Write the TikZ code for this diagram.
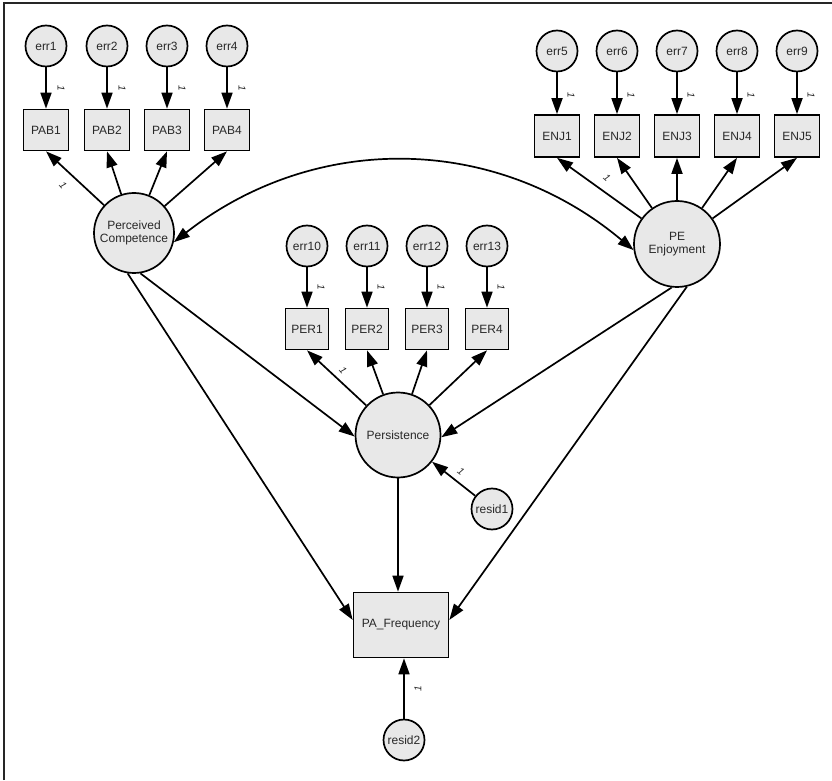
\documentclass[tikz,border=0pt]{standalone}
\usepackage{fontspec}
\setmainfont{Liberation Sans}
\usetikzlibrary{arrows.meta}
\definecolor{boxfill}{RGB}{232,232,232}
\definecolor{ink}{RGB}{40,40,40}
\begin{document}
\begin{tikzpicture}[x=1pt,y=1pt,
  every node/.style={text=ink},
  base/.style={draw=black, line width=1.7pt, fill=boxfill, inner sep=0pt,
    font=\fontsize{12}{13}\selectfont},
  obs/.style={base, rectangle, minimum width=45pt, minimum height=41pt},
  errc/.style={base, circle, minimum size=41pt},
  latent/.style={base, circle, minimum size=84pt, align=center},
  conn/.style={line width=1.7pt, -{Triangle[length=16pt,width=11pt]}},
  cov/.style={line width=1.7pt, {Triangle[length=16pt,width=11pt]}-{Triangle[length=16pt,width=11pt]}},
  wt/.style={inner sep=0pt, font=\fontsize{10}{10}\selectfont\itshape},
]
\useasboundingbox (0,0) rectangle (832,780);
% frame
\draw[line width=1.6pt, black!85] (4,0) -- (4,777) -- (832,777);

% ---------------- Perceived Competence block ----------------
\foreach \i/\x in {1/46,2/107,3/167,4/227}{
  \node[errc] (err\i) at (\x,734) {err\i};
  \node[obs]  (pab\i) at (\x,650) {PAB\i};
  \draw[conn] (err\i) -- (pab\i);
  \node[wt, rotate=-90] (we\i) at (\x+15,692) {1};
}
\node[latent, minimum size=80pt] (pc) at (134,547) {Perceived\\Competence};
\foreach \i in {1,...,4}{ \draw[conn] (pc) -- (pab\i.south); }
\node[wt, rotate=-49.5] (wpc) at (63,595) {1};

% ---------------- PE Enjoyment block ----------------
\foreach \i/\x [evaluate=\i as \j using int(\i+4)] in {1/557,2/617,3/677,4/737,5/797}{
  \node[errc] (err\j) at (\x,729) {err\j};
  \node[obs, minimum height=42pt] (enj\i) at (\x,644) {ENJ\i};
  \draw[conn] (err\j) -- (enj\i);
  \node[wt, rotate=-90] (we\j) at (\x+14,685) {1};
}
\node[latent, minimum size=86pt] (pe) at (677,536) {PE\\Enjoyment};
\foreach \i in {1,...,5}{ \draw[conn] (pe) -- (enj\i.south); }
\node[wt, rotate=-42] (wpe) at (607,602) {1};

% ---------------- Persistence block ----------------
\foreach \i/\x [evaluate=\i as \j using int(\i+9)] in {1/307,2/367,3/427,4/487}{
  \node[errc] (err\j) at (\x,534) {err\j};
  \node[obs, minimum width=43pt] (per\i) at (\x,451) {PER\i};
  \draw[conn] (err\j) -- (per\i);
  \node[wt, rotate=-90] (we\j) at (\x+14,493) {1};
}
\node[latent, minimum size=85pt] (pers) at (398,345) {Persistence};
\foreach \i in {1,...,4}{ \draw[conn] (pers) -- (per\i.south); }
\node[wt, rotate=-49.7] (wpers) at (343,410) {1};

% residual of Persistence
\node[errc] (resid1) at (492,271) {resid1};
\draw[conn] (resid1) -- (pers);
\node[wt, rotate=-38] (wr1) at (461,308) {1};

% ---------------- Outcome ----------------
\node[base, rectangle, minimum width=95pt, minimum height=65pt] (paf) at (401,155) {PA\_Frequency};
\node[errc] (resid2) at (404,40) {resid2};
\draw[conn] (resid2) -- (resid2 |- paf.south);
\node[wt, rotate=90] (wr2) at (418,91) {1};

% structural paths
\draw[conn] (pc.-81) -- (pers.182);
\draw[conn] (pc.-99) -- (paf.174);
\draw[conn] (pe.-97) -- (pers.-3);
\draw[conn] (pe.-77) -- (paf.6);
\draw[conn] (pers.south) -- (pers.south |- paf.north);

% covariance between the exogenous factors
\draw[cov] (pe.188) to[out=140, in=38] (pc.-13);
\end{tikzpicture}
\end{document}
